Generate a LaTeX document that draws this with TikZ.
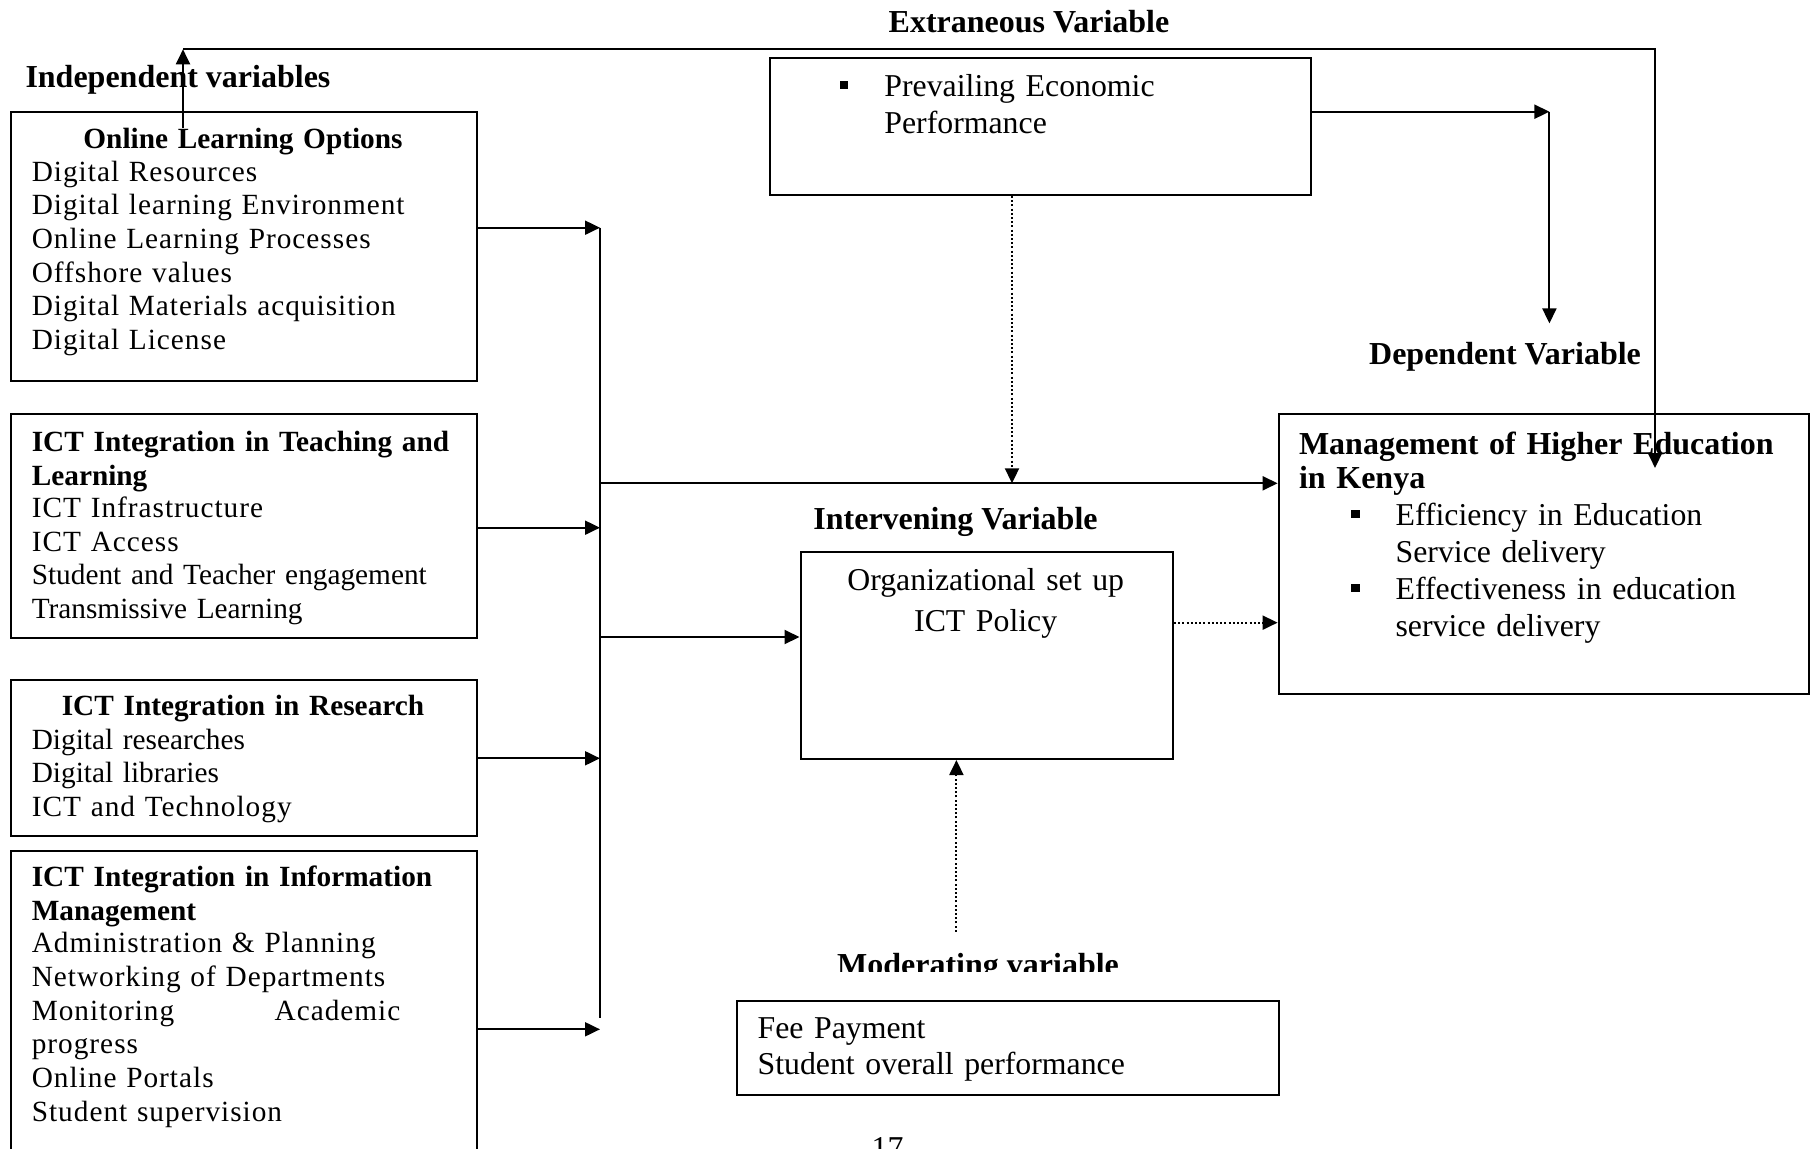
\documentclass[tikz,border=0pt]{standalone}
\usepackage{fontspec}
\setmainfont{Liberation Serif}
\newfontfamily\trackfont[LetterSpace=3.4]{Liberation Serif}
\usetikzlibrary{arrows.meta}

\newcommand\sqbul{\leavevmode\llap{\rule[7.4pt]{8.8pt}{8.8pt}\hspace{36pt}}}

\begin{document}
\begin{tikzpicture}[x=1pt, y=-1pt, line width=2pt,
    box/.style = {draw, anchor=north west, inner sep=0pt},
    var/.style = {inner sep=0pt, font=\bfseries\fontsize{32}{34}\selectfont},
    head/.style = {inner sep=0pt, align=left, text width=440pt, font=\bfseries\fontsize{29.3}{33.5}\selectfont},
    items/.style = {anchor=base west, inner sep=0pt, align=left, text width=440pt, font=\fontsize{29.3}{33.7}\selectfont},
    body/.style = {anchor=base west, inner sep=0pt, align=left, text width=520pt, font=\fontsize{31.8}{37}\selectfont},
    arr/.style = {-{Triangle[length=15pt, width=14pt]}},
    dotarr/.style = {arr, dash pattern=on 2pt off 2.2pt, line width=2pt}]
    \useasboundingbox (0,0) rectangle (1811,1148);

    \node[var, anchor=base west] (indep) at (24.5,87.3) {Independent variables};

    \node[box, minimum width=466.5pt, minimum height=269pt] (online) at (9.5,111) {};
    \node[head, anchor=base, align=center] (onlineh) at (243,148.5) {Online Learning Options};
    \node[items] (onlinei) at (30.8,181) {\trackfont Digital Resources\\ Digital learning Environment\\ Online Learning Processes\\ Offshore values\\ Digital Materials acquisition\\ Digital License};

    \node[box, minimum width=466.5pt, minimum height=224pt] (teach) at (9.5,413.3) {};
    \node[head, anchor=base west] (teachh) at (30.8,451.7) {ICT Integration in Teaching and\\ Learning};
    \node[items] (teachi) at (30.8,517.3) {{\trackfont ICT Infrastructure}\\ {\trackfont ICT Access}\\ Student and Teacher engagement\\ Transmissive Learning};

    \node[box, minimum width=466.5pt, minimum height=155.7pt] (research) at (9.5,679.3) {};
    \node[head, anchor=base, align=center] (researchh) at (243,715) {ICT Integration in Research};
    \node[items] (researchi) at (30.8,749) {Digital researches\\ Digital libraries\\ {\trackfont ICT and Technology}};

    \node[box, minimum width=466.5pt, minimum height=330pt] (info) at (9.5,850) {};
    \node[head, anchor=base west] (infoh) at (30.8,886.7) {ICT Integration in Information\\ Management};
    \node[items] (infoi) at (30.8,952.7) {\trackfont Administration \& Planning\\ Networking of Departments\\ \makebox[368.6pt][l]{Monitoring\hfill Academic}\\ progress\\ Online Portals\\ Student supervision};

    \node[var, anchor=base] (extrav) at (1029,32.3) {Extraneous Variable};
    \node[box, minimum width=541.6pt, minimum height=137.3pt] (extra) at (768.7,56.7) {};
    \node[body] (extrai) at (883.4,96.7) {\sqbul Prevailing Economic\\ Performance};

    \node[var, anchor=base] (intervv) at (955.5,529.3) {Intervening Variable};
    \node[box, minimum width=372.5pt, minimum height=207.3pt] (interv) at (799.5,550.7) {};
    \node[body, anchor=base, align=center, text width=340pt, font=\fontsize{31.8}{41}\selectfont] (intervi) at (985.7,590.7) {Organizational set up\\ ICT Policy};

    \node[var, anchor=base] (depv) at (1505,364) {Dependent Variable};
    \node[box, minimum width=530.4pt, minimum height=280pt] (mgmt) at (1277.6,413.3) {};
    \node[body, font=\bfseries\fontsize{32}{34}\selectfont] (mgmth) at (1298,454) {Management of Higher Education\\ in Kenya};
    \node[body] (mgmti) at (1394.6,525.7) {\sqbul Efficiency in Education\\ Service delivery\\ \sqbul Effectiveness in education\\ service delivery};

    \begin{scope}
        \clip (700,900) rectangle (1300,971);
        \node[var, anchor=base] (modv) at (978,975) {Moderating variable};
    \end{scope}
    \node[box, minimum width=541.5pt, minimum height=94.3pt] (mod) at (736.4,1000) {};
    \node[body, font=\fontsize{31.8}{36}\selectfont] (modi) at (756.6,1038.3) {Fee Payment\\ Student overall performance};

    \node[anchor=base, inner sep=0pt, font=\fontsize{31.8}{37}\selectfont] (pagenum) at (887.5,1158) {17};

    \coordinate (bustop) at (600,227.7);
    \coordinate (busteach) at (600,527.7);
    \coordinate (busres) at (600,758.3);
    \coordinate (busbot) at (600,1018.3);
    \coordinate (businfo) at (600,1029.3);
    \coordinate (busmgmt) at (600,483.3);
    \coordinate (businterv) at (600,637);
    \draw (bustop) -- (busbot);
    \draw[arr] (online.east |- bustop) -- (bustop);
    \draw[arr] (teach.east |- busteach) -- (busteach);
    \draw[arr] (research.east |- busres) -- (busres);
    \draw[arr] (info.east |- businfo) -- (businfo);
    \draw[arr] (busmgmt) -- (busmgmt -| mgmt.west);
    \draw[arr] (businterv) -- (businterv -| interv.west);

    \coordinate (extradrop) at (1012,483.3);
    \draw[dotarr] (extra.south -| extradrop) -- (extradrop);
    \draw[dotarr] ([yshift=32.7pt]interv.east) -- ([yshift=32.7pt]interv.east -| mgmt.west);
    \coordinate (modtop) at (956.4,931.7);
    \draw[dotarr] (modtop) -- (modtop |- interv.south);

    \coordinate (ecorner) at (1549.4,111.7);
    \coordinate (eend) at (1549.4,323.4);
    \draw[arr] (extra.east |- ecorner) -- (ecorner);
    \draw[arr] (ecorner) -- (eend);

    \coordinate (fbfoot) at (183,127.7);
    \coordinate (fbtop) at (183,49.3);
    \coordinate (fbend) at (1655,468);
    \draw[arr] (fbfoot) -- (fbtop);
    \draw[arr] (fbtop) -| (fbend);
\end{tikzpicture}
\end{document}
